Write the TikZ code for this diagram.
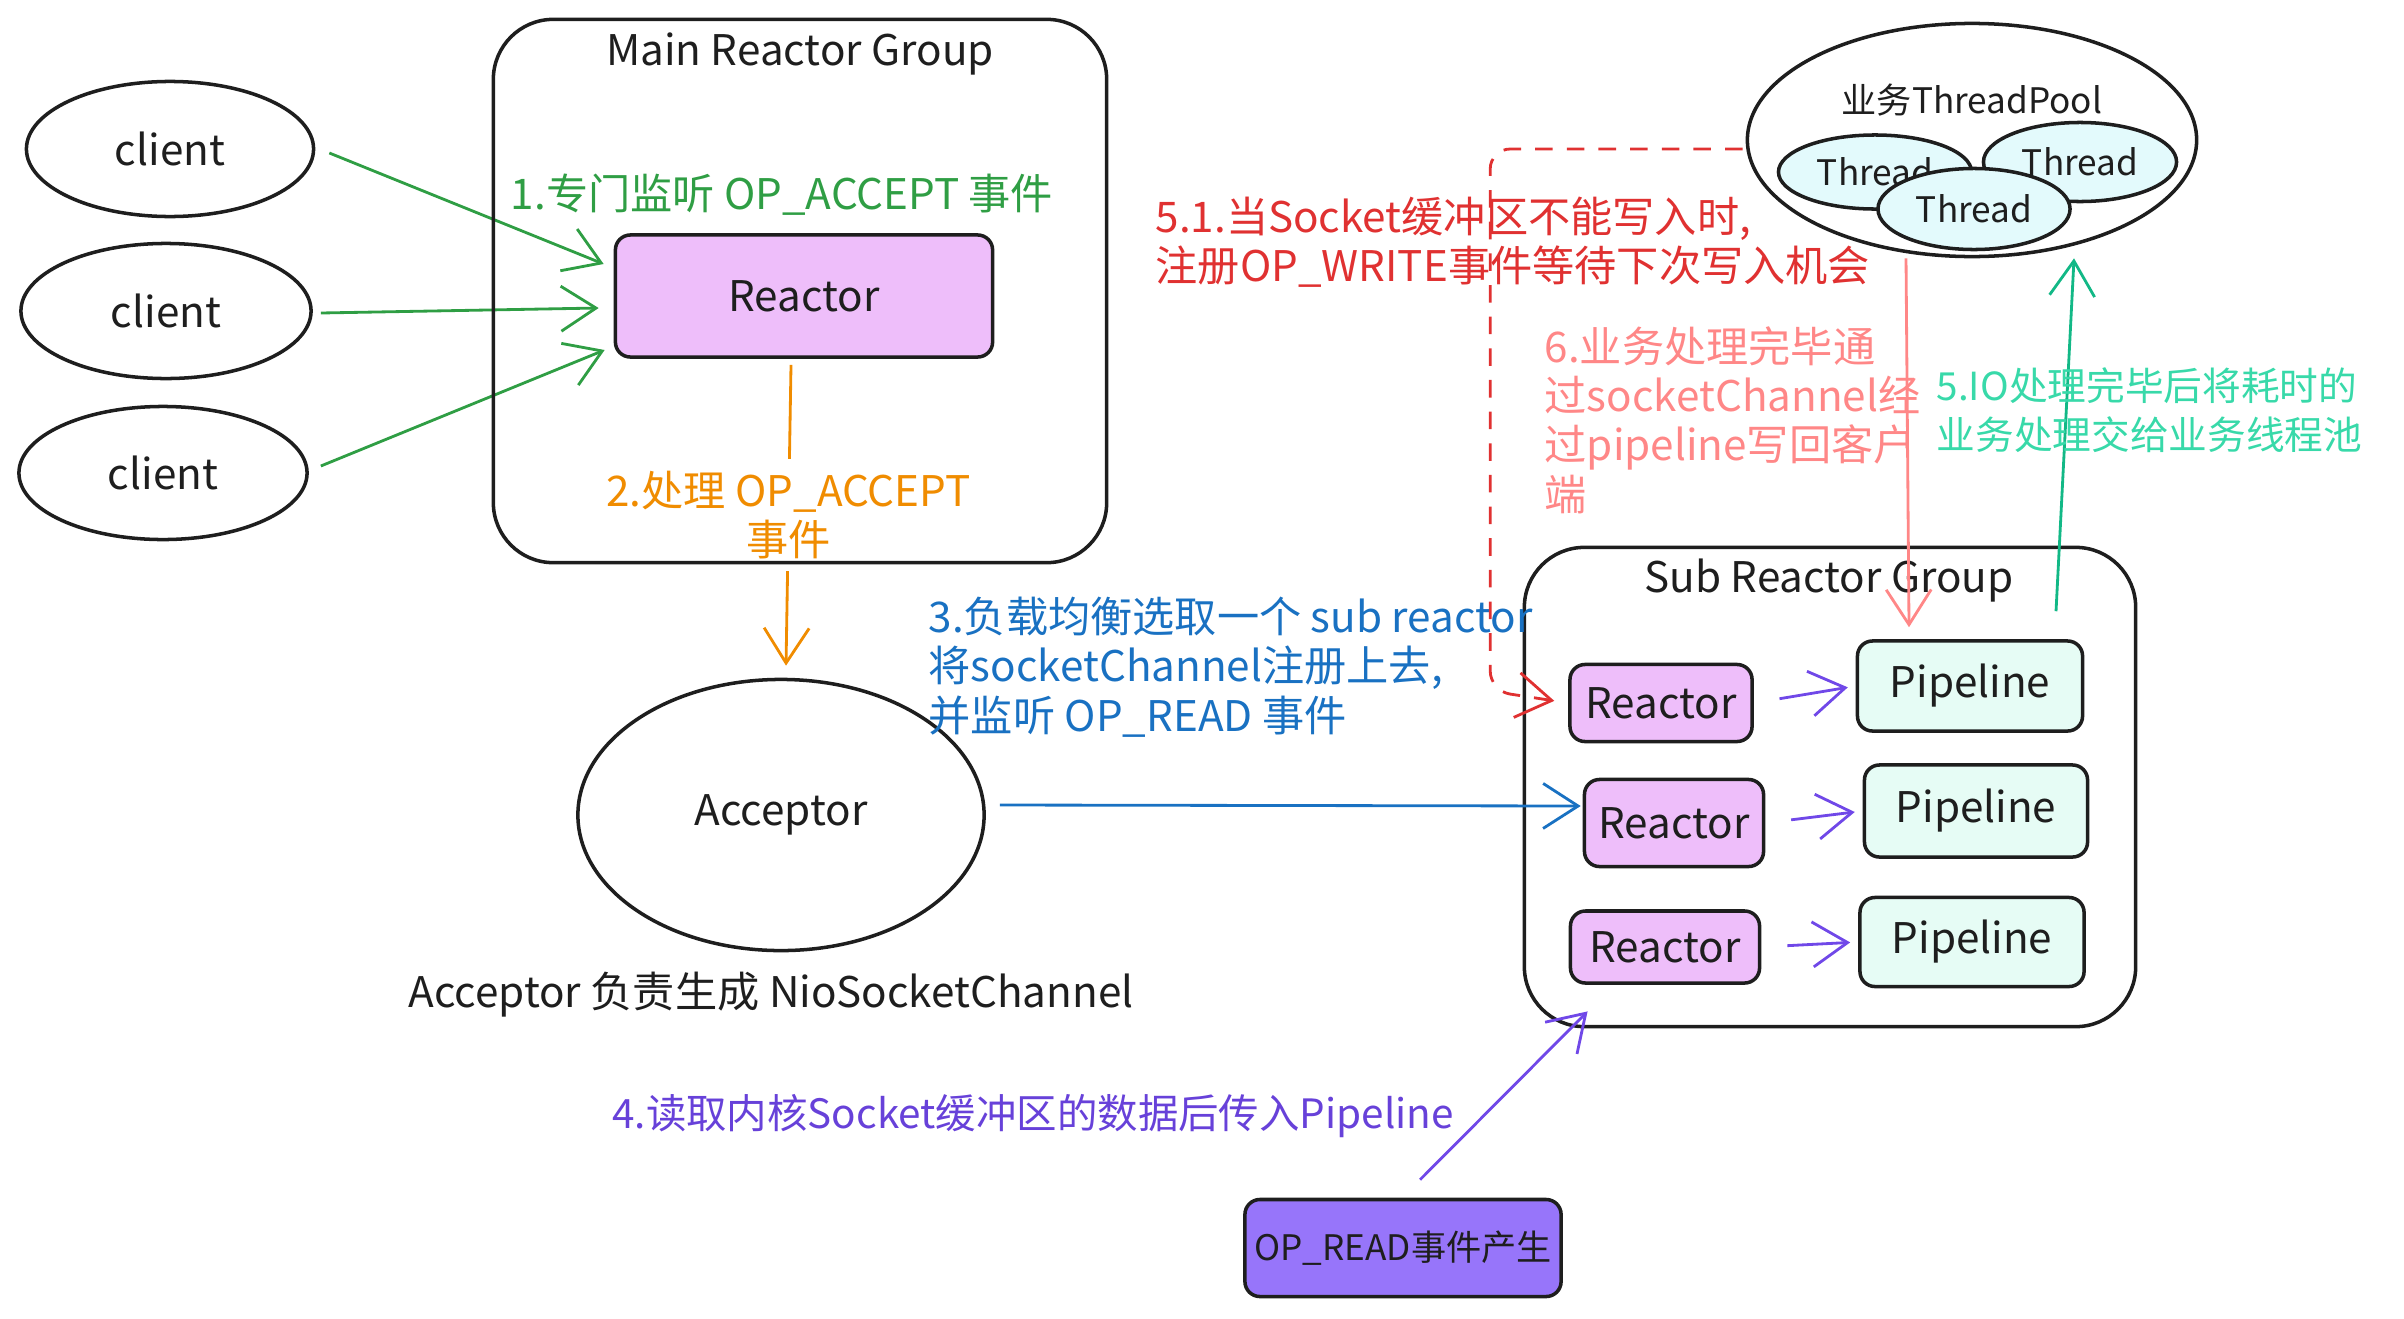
\documentclass[tikz,border=0pt]{standalone}
\usepackage{fontspec}
\newfontfamily\cjk{Noto Sans CJK SC}
\usetikzlibrary{arrows.meta,calc,shapes.geometric}
\definecolor{ink}{HTML}{1E1E1E}
\definecolor{acceptc}{HTML}{2F9E44}
\definecolor{handc}{HTML}{F08C00}
\definecolor{dispc}{HTML}{1971C2}
\definecolor{readc}{HTML}{7048E8}
\definecolor{readtxt}{HTML}{6741D9}
\definecolor{writec}{HTML}{E03131}
\definecolor{backc}{HTML}{FF8787}
\definecolor{poolc}{HTML}{12B886}
\definecolor{pooltxt}{HTML}{38D9A9}
\definecolor{reactorfill}{HTML}{EEBEFA}
\definecolor{pipefill}{HTML}{E6FCF5}
\definecolor{threadfill}{HTML}{E3FAFC}
\definecolor{eventfill}{HTML}{9775FA}
\newcommand{\lblsize}{\fontsize{12}{14}\selectfont}
\newcommand{\smallsize}{\fontsize{10}{12}\selectfont}

\begin{document}
\begin{tikzpicture}[x=0.01cm, y=-0.01cm,
  every node/.style={font=\cjk\lblsize, text=ink},
  grpbox/.style={draw=ink, line width=1pt, rounded corners=0.6cm, inner sep=0pt},
  reactorbox/.style={draw=ink, fill=reactorfill, line width=1pt, rounded corners=0.15cm, inner sep=0pt},
  pipebox/.style={draw=ink, fill=pipefill, line width=1pt, rounded corners=0.15cm, inner sep=0pt},
  eventbox/.style={draw=ink, fill=eventfill, line width=1pt, rounded corners=0.15cm, inner sep=0pt, font=\cjk\smallsize},
  blob/.style={ellipse, draw=ink, line width=1pt, inner sep=0pt},
  flow/.style={-{Straight Barb[length=3.5mm,width=4.5mm]}, line width=0.8pt},
  note/.style={align=left, anchor=west, inner sep=0pt}]
  \useasboundingbox (0,0) rectangle (2404,1318);

  % clients
  \node[blob, minimum width=2.87cm, minimum height=1.35cm] (c1) at (170,149) {client};
  \node[blob, minimum width=2.90cm, minimum height=1.35cm] (c2) at (166,311) {client};
  \node[blob, minimum width=2.88cm, minimum height=1.33cm] (c3) at (163,473) {client};

  % main reactor
  \node[reactorbox, minimum width=3.77cm, minimum height=1.22cm] (mreactor) at (804,296) {Reactor};
  \node[text=acceptc] (acceptlbl) at (782,195) {1.专门监听 OP\_ACCEPT 事件};
  \draw[flow, acceptc] ($(c1.east)+(14,4)$) -- ($(mreactor.west)+(-10,-32)$);
  \draw[flow, acceptc] ($(c2.east)+(8,2)$) -- ($(mreactor.west)+(-15,12)$);
  \draw[flow, acceptc] ($(c3.east)+(12,-7)$) -- ($(mreactor.west)+(-9,54)$);

  % acceptor
  \node[blob, minimum width=4.06cm, minimum height=2.71cm] (acceptor) at (781,815) {Acceptor};
  \node (acclbl) at (771,995) {Acceptor 负责生成 NioSocketChannel};
  \draw[flow, handc] ($(mreactor.south)+(-13,6)$) -- ($(acceptor.north)+(5,-12)$)
    node[pos=0.5, fill=white, text=handc, align=center] (handlbl) {2.处理 OP\_ACCEPT\\事件};

  % main group frame on top of the label
  \node[grpbox, minimum width=6.13cm, minimum height=5.43cm] (maingrp) at (800,291) {};
  \node (maintitle) at (800,54) {Main Reactor Group};

  % sub reactor group
  \node[grpbox, minimum width=6.11cm, minimum height=4.79cm] (subgrp) at (1830,787) {};
  \node (subtitle) at (1829,581) {Sub Reactor Group};
  \node[reactorbox, minimum width=1.82cm, minimum height=0.77cm] (sr1) at (1661,703) {Reactor};
  \node[reactorbox, minimum width=1.79cm, minimum height=0.87cm] (sr2) at (1674,823) {Reactor};
  \node[reactorbox, minimum width=1.89cm, minimum height=0.72cm] (sr3) at (1665,947) {Reactor};
  \node[pipebox, minimum width=2.25cm, minimum height=0.90cm] (p1) at (1970,686) {Pipeline};
  \node[pipebox, minimum width=2.23cm, minimum height=0.92cm] (p2) at (1976,811) {Pipeline};
  \node[pipebox, minimum width=2.24cm, minimum height=0.89cm] (p3) at (1972,942) {Pipeline};
  \foreach \i in {1,2,3}
    \draw[flow, readc, shorten <=0.26cm, shorten >=0.08cm] (sr\i.east) -- (p\i.west);

  \draw[flow, dispc] ($(acceptor.east)+(14,-10)$) -- ($(sr2.west)+(-2,-17)$);
  \node[note, text=dispc] (displbl) at (928,667) {3.负载均衡选取一个 sub reactor\\将socketChannel注册上去,\\并监听 OP\_READ 事件};

  % read event
  \node[eventbox, minimum width=3.16cm, minimum height=0.97cm] (opread) at (1403,1248) {OP\_READ事件产生};
  \draw[flow, readc] ($(opread.north)+(17,-18)$) -- ($(subgrp.south west)+(65,-17)$);
  \node[text=readtxt, font=\cjk\fontsize{11.5}{14}\selectfont] (readlbl) at (1033,1116) {4.读取内核Socket缓冲区的数据后传入Pipeline};

  % business thread pool
  \node[blob, minimum width=4.49cm, minimum height=2.33cm] (tpool) at (1972,140) {};
  \node[font=\cjk\smallsize] (pooltitle) at (1972,100) {业务ThreadPool};
  \node[blob, fill=threadfill, minimum width=1.93cm, minimum height=0.74cm, font=\cjk\smallsize] (t1) at (1875,172) {Thread};
  \node[blob, fill=threadfill, minimum width=1.93cm, minimum height=0.79cm, font=\cjk\smallsize] (t2) at (2080,162) {Thread};
  \node[blob, fill=threadfill, minimum width=1.92cm, minimum height=0.81cm, font=\cjk\smallsize] (t3) at (1974,209) {Thread};

  \draw[writec, line width=0.8pt, dash pattern=on 5pt off 4pt, rounded corners=0.2cm,
    -{Straight Barb[length=3.5mm,width=4.5mm]}, shorten >=4pt]
    ($(tpool.west)+(-3,9)$) -| ($(sr1.west)+(-78,-12)$) -- (sr1.west);
  \node[note, text=writec] (writelbl) at (1155,242) {5.1.当Socket缓冲区不能写入时,\\注册OP\_WRITE事件等待下次写入机会};

  \draw[flow, backc] ($(tpool.south)+(-66,0)$) -- ($(p1.north)+(-61,-12)$);
  \node[note, text=backc] (backlbl) at (1544,420) {6.业务处理完毕通\\过socketChannel经\\过pipeline写回客户\\端};

  \draw[flow, poolc] ($(p1.north)+(86,-28)$) -- ($(tpool.south)+(102,0)$);
  \node[note, text=pooltxt, font=\cjk\fontsize{11}{14}\selectfont] (poollbl) at (1936,410) {5.IO处理完毕后将耗时的\\业务处理交给业务线程池};
\end{tikzpicture}
\end{document}
